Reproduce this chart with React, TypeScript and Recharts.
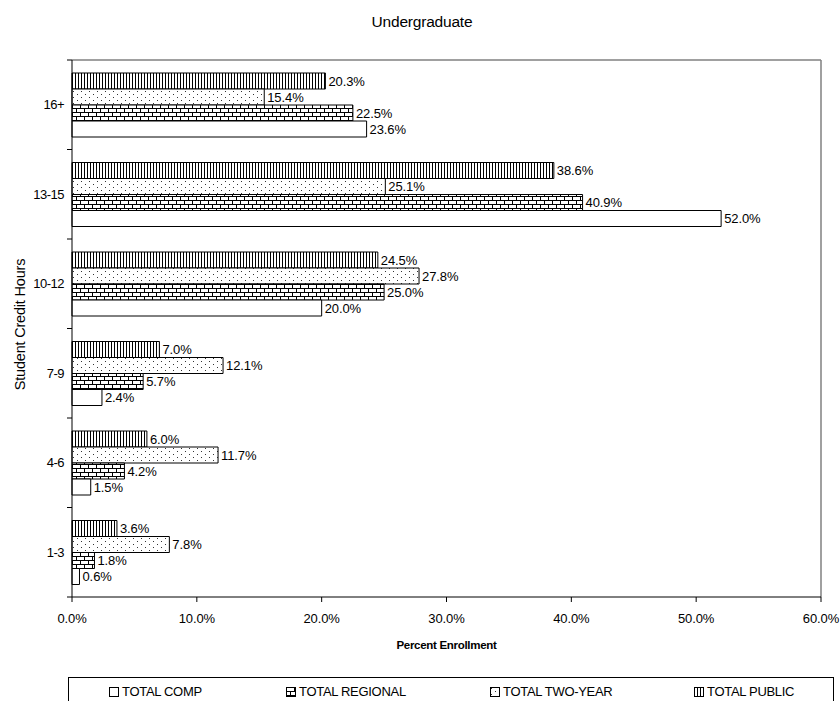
import React from "react";
import {
  BarChart,
  Bar,
  XAxis,
  YAxis,
  CartesianGrid,
  LabelList,
  Label,
} from "recharts";

const categories = ["16+", "13-15", "10-12", "7-9", "4-6", "1-3"];
const totalPublic = [20.3, 38.6, 24.5, 7.0, 6.0, 3.6];
const totalTwoYear = [15.4, 25.1, 27.8, 12.1, 11.7, 7.8];
const totalRegional = [22.5, 40.9, 25.0, 5.7, 4.2, 1.8];
const totalComp = [23.6, 52.0, 20.0, 2.4, 1.5, 0.6];
const xTicks = [0, 10, 20, 30, 40, 50, 60];

const data = categories.map((name, i) => ({
  name,
  pub: totalPublic[i],
  two: totalTwoYear[i],
  reg: totalRegional[i],
  comp: totalComp[i],
}));

const FONT = "'Liberation Sans', Arial, sans-serif";
const W = 840;
const H = 701;
const PLOT_TOP = 60;
const PLOT_LEFT = 72;
const PLOT_RIGHT = 821;
const PLOT_BOTTOM = 597;
const BAND = (PLOT_BOTTOM - PLOT_TOP) / categories.length;
const LS = -0.1;

const pct = (v: number) => `${v.toFixed(1)}%`;

function Patterns({ prefix }: { prefix: string }) {
  return (
    <defs>
      <pattern id={`${prefix}pub`} width="3" height="4" patternUnits="userSpaceOnUse">
        <rect width="3" height="4" fill="#fff" />
        <line x1="0.5" y1="0" x2="0.5" y2="4" stroke="#000" strokeWidth="1" />
      </pattern>
      <pattern id={`${prefix}two`} width="8" height="6" patternUnits="userSpaceOnUse">
        <rect width="8" height="6" fill="#fff" />
        <rect x="1" y="1" width="1" height="1" fill="#333" />
        <rect x="5" y="4" width="1" height="1" fill="#333" />
      </pattern>
      <pattern id={`${prefix}reg`} width="8" height="8" patternUnits="userSpaceOnUse">
        <rect width="8" height="8" fill="#fff" />
        <line x1="0" y1="0.5" x2="8" y2="0.5" stroke="#000" strokeWidth="1" />
        <line x1="0" y1="4.5" x2="8" y2="4.5" stroke="#000" strokeWidth="1" />
        <line x1="0.5" y1="0" x2="0.5" y2="4" stroke="#000" strokeWidth="1" />
        <line x1="4.5" y1="4" x2="4.5" y2="8" stroke="#000" strokeWidth="1" />
      </pattern>
    </defs>
  );
}

function CategoryTick(props: any) {
  const { y, payload, index } = props;
  return (
    <g>
      <text
        x={PLOT_LEFT - 8}
        y={y}
        textAnchor="end"
        dominantBaseline="central"
        fontFamily={FONT}
        fontSize={13}
        letterSpacing={-0.5}
        fill="#000"
      >
        {payload.value}
      </text>
      {index === 0 && (
        <line x1={PLOT_LEFT - 5} x2={PLOT_LEFT} y1={y - BAND / 2} y2={y - BAND / 2} stroke="#000" />
      )}
      <line x1={PLOT_LEFT - 5} x2={PLOT_LEFT} y1={y + BAND / 2} y2={y + BAND / 2} stroke="#000" />
    </g>
  );
}

const legendItems = [
  { label: "TOTAL COMP", fill: "#fff", left: 108 },
  { label: "TOTAL REGIONAL", fill: "url(#lgreg)", left: 285 },
  { label: "TOTAL TWO-YEAR", fill: "url(#lgtwo)", left: 489 },
  { label: "TOTAL PUBLIC", fill: "url(#lgpub)", left: 693 },
];

const labelProps = {
  position: "right" as const,
  offset: 3,
  formatter: pct,
  fill: "#000",
  fontFamily: FONT,
  fontSize: 13,
  letterSpacing: LS,
};

export default function App() {
  return (
    <div style={{ position: "absolute", left: 0, top: 0, width: W, height: H, background: "#fff" }}>
      <div
        style={{
          position: "absolute",
          top: 13,
          left: 0,
          width: 844,
          textAlign: "center",
          fontFamily: FONT,
          fontSize: 15.5,
          letterSpacing: -0.2,
          color: "#000",
        }}
      >
        Undergraduate
      </div>
      <BarChart
        width={W}
        height={H}
        data={data}
        layout="vertical"
        barSize={16}
        barGap={0}
        margin={{ top: PLOT_TOP, right: W - PLOT_RIGHT, bottom: H - PLOT_BOTTOM - 56, left: 0 }}
      >
        <Patterns prefix="p" />
        <CartesianGrid
          stroke="#808080"
          strokeWidth={1.5}
          horizontalCoordinatesGenerator={({ offset }: any) => [offset.top]}
          verticalCoordinatesGenerator={({ offset }: any) => [offset.left + offset.width]}
        />
        <XAxis
          type="number"
          domain={[0, 60]}
          ticks={xTicks}
          tickFormatter={pct}
          axisLine={{ stroke: "#000" }}
          tickLine={{ stroke: "#000" }}
          tickSize={5}
          height={56}
          tick={{ fill: "#000", fontFamily: FONT, fontSize: 13, letterSpacing: LS }}
          tickMargin={12}
        >
          <Label
            value="Percent Enrollment"
            position="insideBottom"
            offset={4}
            style={{ fontFamily: FONT, fontSize: 11.5, fontWeight: "bold", fill: "#000", letterSpacing: -0.3 }}
          />
        </XAxis>
        <YAxis
          type="category"
          dataKey="name"
          width={PLOT_LEFT}
          axisLine={{ stroke: "#000" }}
          tickLine={false}
          tick={<CategoryTick />}
          interval={0}
        >
          <Label
            content={({ viewBox }: any) => {
              const cy = viewBox.y + viewBox.height / 2 - 4;
              return (
                <text
                  x={20}
                  y={cy}
                  transform={`rotate(-90, 20, ${cy})`}
                  textAnchor="middle"
                  dominantBaseline="central"
                  fontFamily={FONT}
                  fontSize={14.5}
                  letterSpacing={-0.2}
                  fill="#000"
                >
                  Student Credit Hours
                </text>
              );
            }}
          />
        </YAxis>
        <Bar dataKey="pub" fill="url(#ppub)" stroke="#000" strokeWidth={1} isAnimationActive={false}>
          <LabelList dataKey="pub" {...labelProps} />
        </Bar>
        <Bar dataKey="two" fill="url(#ptwo)" stroke="#000" strokeWidth={1} isAnimationActive={false}>
          <LabelList dataKey="two" {...labelProps} />
        </Bar>
        <Bar dataKey="reg" fill="url(#preg)" stroke="#000" strokeWidth={1} isAnimationActive={false}>
          <LabelList dataKey="reg" {...labelProps} />
        </Bar>
        <Bar dataKey="comp" fill="#fff" stroke="#000" strokeWidth={1} isAnimationActive={false}>
          <LabelList dataKey="comp" {...labelProps} />
        </Bar>
      </BarChart>
      <div
        style={{
          position: "absolute",
          left: 68,
          top: 677,
          width: 766,
          height: 40,
          border: "1px solid #000",
          boxSizing: "border-box",
          fontFamily: FONT,
          fontSize: 13,
          letterSpacing: -0.3,
          color: "#000",
        }}
      >
        <svg width={0} height={0} style={{ position: "absolute" }}>
          <Patterns prefix="lg" />
        </svg>
        {legendItems.map((it) => (
          <div
            key={it.label}
            style={{ position: "absolute", left: it.left - 68, top: 6, display: "flex", alignItems: "center", whiteSpace: "nowrap" }}
          >
            <svg width={10} height={10} style={{ marginRight: 3 }}>
              <rect x={0.5} y={0.5} width={9} height={9} fill={it.fill} stroke="#000" />
            </svg>
            {it.label}
          </div>
        ))}
      </div>
    </div>
  );
}
